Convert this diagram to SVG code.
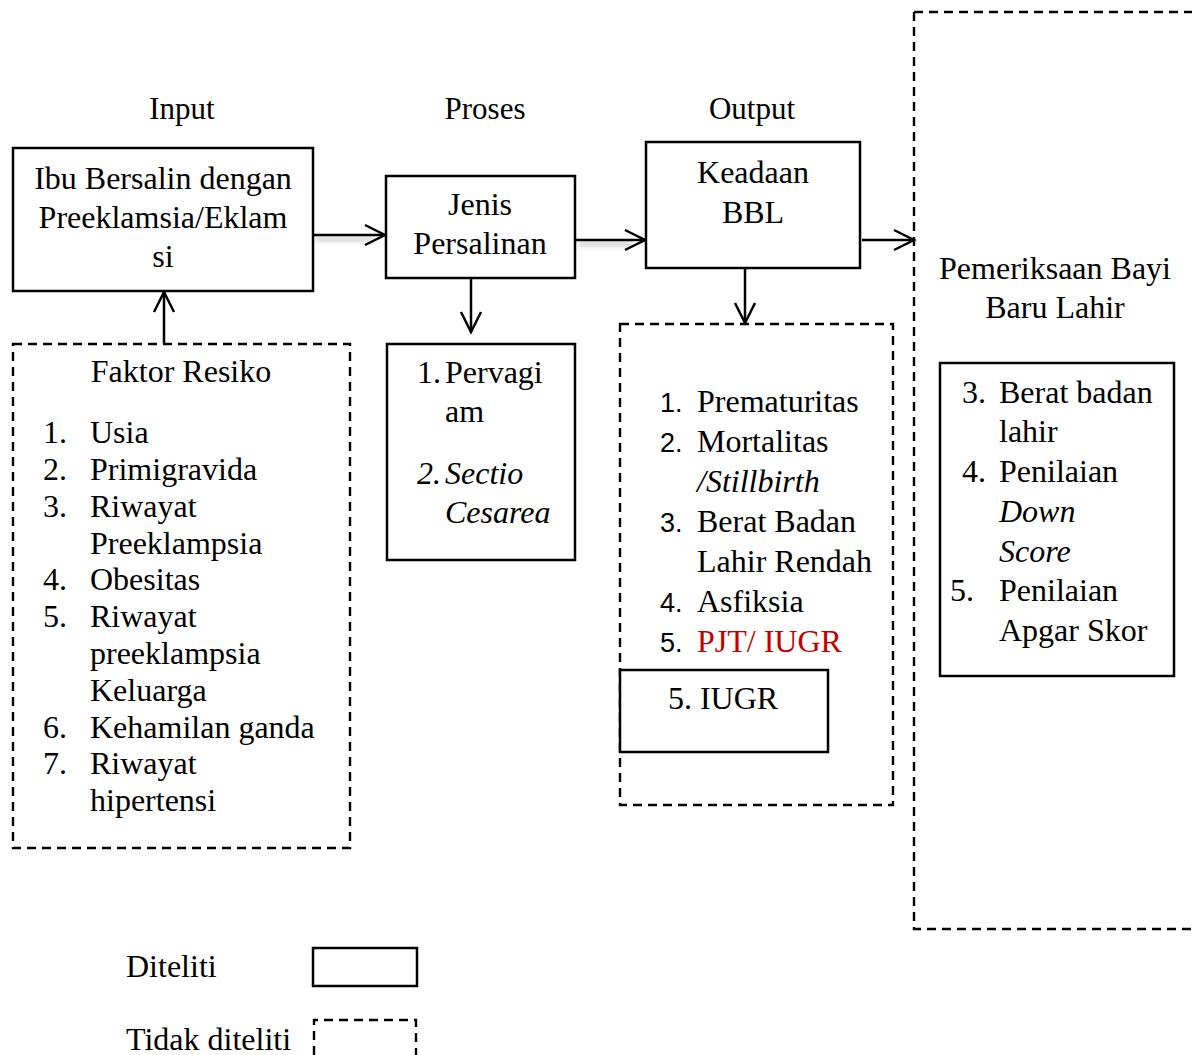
<svg xmlns="http://www.w3.org/2000/svg" width="1192" height="1055" viewBox="0 0 1192 1055">
<style>
text{font-family:"Liberation Serif","Times New Roman",serif;font-size:32px;fill:#000}
.c{text-anchor:middle}
.i{font-style:italic}
.n{font-family:"Liberation Sans",Arial,sans-serif;font-size:27px}
.red{fill:#C00000}
.solid{fill:#fff;stroke:#000;stroke-width:2.5}
.dash{fill:none;stroke:#000;stroke-width:2.4;stroke-dasharray:9,6}
.conn{fill:none;stroke:#000;stroke-width:2.5}
.shadow{fill:none;stroke:#888;stroke-width:3;opacity:0.6}
</style>
<defs>
<marker id="arr" markerUnits="userSpaceOnUse" markerWidth="26" markerHeight="26" refX="22" refY="12" orient="auto">
<path d="M2,2 L22,12 L2,22" fill="none" stroke="#000" stroke-width="2.5"/>
</marker>
<filter id="blur" filterUnits="userSpaceOnUse" x="0" y="0" width="1192" height="1055">
<feGaussianBlur stdDeviation="2.5"/>
</filter>
</defs>
<rect width="1192" height="1055" fill="#fff"/>

<g id="headers">
<text x="182" y="119" class="c" style="font-size:31px">Input</text>
<text x="485" y="119" class="c" style="font-size:31px">Proses</text>
<text x="752" y="119" class="c" style="font-size:31px">Output</text>
</g>

<g id="connectors">
<line x1="316" y1="239" x2="372" y2="239" class="shadow" filter="url(#blur)"/>
<line x1="578" y1="244" x2="632" y2="244" class="shadow" filter="url(#blur)"/>
<line x1="313" y1="235" x2="385" y2="235" class="conn" marker-end="url(#arr)"/>
<line x1="575" y1="240" x2="645" y2="240" class="conn" marker-end="url(#arr)"/>
<line x1="862" y1="240" x2="914" y2="240" class="conn" marker-end="url(#arr)"/>
<line x1="745" y1="268" x2="745" y2="323" class="conn" marker-end="url(#arr)"/>
<line x1="471" y1="278" x2="471" y2="332" class="conn" marker-end="url(#arr)"/>
<line x1="164" y1="344" x2="164" y2="292" class="conn" marker-end="url(#arr)"/>
</g>

<g id="node-input">
<rect x="13" y="148" width="300" height="143" class="solid"/>
<text x="163" y="189" class="c">Ibu Bersalin dengan</text>
<text x="163" y="228" class="c">Preeklamsia/Eklam</text>
<text x="163" y="267" class="c">si</text>
</g>

<g id="node-proses">
<rect x="386" y="176" width="189" height="102" class="solid"/>
<text x="480" y="215" class="c">Jenis</text>
<text x="480" y="254" class="c">Persalinan</text>
</g>

<g id="node-output">
<rect x="646" y="142" width="214" height="126" class="solid"/>
<text x="753" y="183" class="c">Keadaan</text>
<text x="753" y="223" class="c">BBL</text>
</g>

<g id="node-pemeriksaan">
<path d="M914,12 H1192 M914,12 V929 H1192" class="dash"/>
<text x="1055" y="279" class="c">Pemeriksaan Bayi</text>
<text x="1055" y="318" class="c">Baru Lahir</text>
</g>

<g id="node-pemeriksaan-list">
<rect x="940" y="363" width="234" height="313" class="solid"/>
<text x="962" y="403">3.</text><text x="999" y="403">Berat badan</text>
<text x="999" y="442">lahir</text>
<text x="962" y="482">4.</text><text x="999" y="482">Penilaian</text>
<text x="999" y="522" class="i">Down</text>
<text x="999" y="562" class="i">Score</text>
<text x="950" y="601">5.</text><text x="999" y="601">Penilaian</text>
<text x="999" y="641">Apgar Skor</text>
</g>

<g id="node-faktor">
<rect x="13" y="344" width="337" height="504" class="dash"/>
<text x="181" y="382" class="c">Faktor Resiko</text>
<text x="43" y="443">1.</text><text x="90" y="443">Usia</text>
<text x="43" y="480">2.</text><text x="90" y="480">Primigravida</text>
<text x="43" y="517">3.</text><text x="90" y="517">Riwayat</text>
<text x="90" y="554">Preeklampsia</text>
<text x="43" y="590">4.</text><text x="90" y="590">Obesitas</text>
<text x="43" y="627">5.</text><text x="90" y="627">Riwayat</text>
<text x="90" y="664">preeklampsia</text>
<text x="90" y="701">Keluarga</text>
<text x="43" y="738">6.</text><text x="90" y="738">Kehamilan ganda</text>
<text x="43" y="774">7.</text><text x="90" y="774">Riwayat</text>
<text x="90" y="811">hipertensi</text>
</g>

<g id="node-jenis-list">
<rect x="387" y="344" width="188" height="216" class="solid"/>
<text x="417" y="383">1.</text><text x="445" y="383">Pervagi</text>
<text x="445" y="422">am</text>
<text x="417" y="484" class="i">2.</text><text x="445" y="484" class="i">Sectio</text>
<text x="445" y="523" class="i">Cesarea</text>
</g>

<g id="node-output-list">
<rect x="620" y="324" width="273" height="481" class="dash"/>
<text x="660" y="412" class="n">1.</text><text x="697" y="412">Prematuritas</text>
<text x="660" y="452" class="n">2.</text><text x="697" y="452">Mortalitas</text>
<text x="697" y="492" class="i">/Stillbirth</text>
<text x="660" y="532" class="n">3.</text><text x="697" y="532">Berat Badan</text>
<text x="697" y="572">Lahir Rendah</text>
<text x="660" y="612" class="n">4.</text><text x="697" y="612">Asfiksia</text>
<text x="660" y="652" class="n">5.</text><text x="697" y="652" class="red">PJT/ IUGR</text>
</g>

<g id="node-iugr">
<rect x="620" y="670" width="208" height="82" class="solid"/>
<text x="723" y="709" class="c">5. IUGR</text>
</g>

<g id="legend">
<text x="126" y="977">Diteliti</text>
<rect x="313" y="948" width="104" height="38" class="solid"/>
<text x="126" y="1050">Tidak diteliti</text>
<path d="M314,1055 V1020 H416 V1055" class="dash"/>
</g>
</svg>
